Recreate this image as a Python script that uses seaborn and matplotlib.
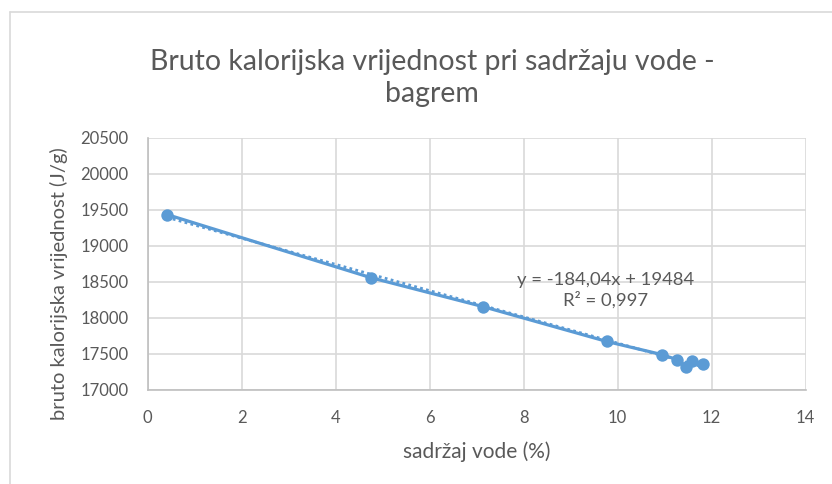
import pandas as pd
import seaborn as sns
import matplotlib.pyplot as plt
from matplotlib.lines import Line2D

# Values
sadrzaj_vode = [0.41, 4.75, 7.13, 9.77, 10.94, 11.26, 11.45, 11.58, 11.82]
kalorijska = [19435, 18556, 18154, 17668, 17486, 17416, 17318, 17400, 17360]

x_ticks = [0, 2, 4, 6, 8, 10, 12, 14]
y_ticks = [17000, 17500, 18000, 18500, 19000, 19500, 20000, 20500]

title = "Bruto kalorijska vrijednost pri sadržaju vode -\nbagrem"
x_label = "sadržaj vode (%)"
y_label = "bruto kalorijska vrijednost (J/g)"
equation = "y = -184,04x + 19484\nR² = 0,997"

BLUE = "#5B9BD5"
GRID = "#D9D9D9"
TEXT = "#595959"

df = pd.DataFrame({"voda": sadrzaj_vode, "kal": kalorijska})

sns.set_style("white")
plt.rcParams["font.family"] = ["Lato", "DejaVu Sans"]

fig = plt.figure(figsize=(8.32, 4.84), dpi=100)
ax = fig.add_axes([147.7 / 832, 1 - 389.5 / 484, 658 / 832, 251.5 / 484])

# linear trendline (dotted)
sns.regplot(data=df, x="voda", y="kal", ax=ax, ci=None, scatter=False,
            line_kws={"color": BLUE, "lw": 2.0, "linestyle": (0, (1, 1.2))})
# connecting line and markers
sns.lineplot(data=df, x="voda", y="kal", ax=ax, color=BLUE, lw=2.3, sort=False)
sns.scatterplot(data=df, x="voda", y="kal", ax=ax, color=BLUE, s=80,
                edgecolor=BLUE, linewidth=0, zorder=5)

ax.set_xlim(0, 14)
ax.set_ylim(17000, 20500)
ax.set_xticks(x_ticks)
ax.set_yticks(y_ticks)
ax.grid(True, color=GRID, lw=1.2)
ax.set_axisbelow(True)
for side in ["top", "right"]:
    ax.spines[side].set_visible(False)
for side in ["left", "bottom"]:
    ax.spines[side].set_color("#BFBFBF")
    ax.spines[side].set_linewidth(1.2)
ax.tick_params(axis="both", length=0, labelsize=12, colors=TEXT)
ax.tick_params(axis="x", pad=15)
ax.tick_params(axis="y", pad=14)

ax.set_xlabel(x_label, fontsize=15, color=TEXT, va="baseline")
ax.xaxis.set_label_coords(0.5, (389.5 - 458) / 251.5)
ax.set_ylabel(y_label, fontsize=14.5, color=TEXT)
ax.yaxis.set_label_coords((68 - 147.7) / 658, 0.42)

ax.text(9.75, 18380, equation, ha="center", va="center", fontsize=13.3,
        color=TEXT, linespacing=1.2)

fig.text(432 / 832, 1 - 78 / 484, title, ha="center", va="center",
         fontsize=20.5, color=TEXT, linespacing=1.3)

# chart area border (left and top edges visible)
fig.add_artist(Line2D([10 / 832, 10 / 832], [0, 1 - 12 / 484],
                      transform=fig.transFigure, color="#D9D9D9", lw=1.2))
fig.add_artist(Line2D([10 / 832, 1], [1 - 12 / 484, 1 - 12 / 484],
                      transform=fig.transFigure, color="#D9D9D9", lw=1.2))

fig.savefig("out.png", dpi=100)
